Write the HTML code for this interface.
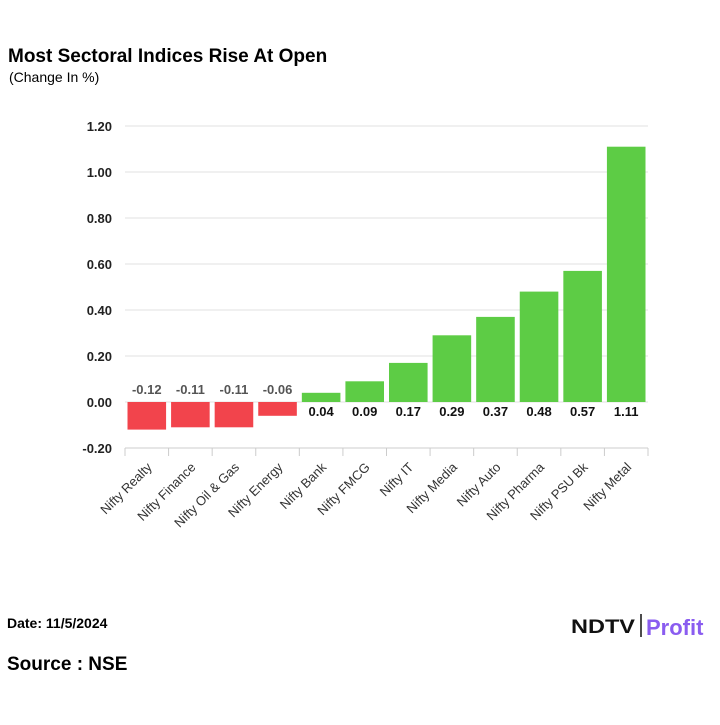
<!DOCTYPE html>
<html><head><meta charset="utf-8"><style>
body{margin:0;background:#fff;width:720px;height:720px;overflow:hidden;font-family:"Liberation Sans",Arial,sans-serif}
</style></head><body>
<svg width="720" height="720">
<text x="8" y="62" font-size="19" font-weight="bold" fill="#000">Most Sectoral Indices Rise At Open</text>
<text x="9" y="82" font-size="14" fill="#000">(Change In %)</text>
<g id="plot"></g>
<text x="7" y="628" font-size="14" font-weight="bold">Date: 11/5/2024</text>
<text x="7" y="670" font-size="19" font-weight="bold">Source : NSE</text>
<g>
<text x="571" y="633" font-size="19" font-weight="900" fill="#111" textLength="64" lengthAdjust="spacingAndGlyphs">NDTV</text>
<line x1="641" y1="614" x2="641" y2="637" stroke="#111" stroke-width="1.5"/>
<text x="646" y="635" font-size="22" font-weight="bold" fill="#8a5cf0">Profit</text>
</g>
</svg>
<script>
const categories=["Nifty Realty","Nifty Finance","Nifty Oil & Gas","Nifty Energy","Nifty Bank","Nifty FMCG","Nifty IT","Nifty Media","Nifty Auto","Nifty Pharma","Nifty PSU Bk","Nifty Metal"];
const values=[-0.12,-0.11,-0.11,-0.06,0.04,0.09,0.17,0.29,0.37,0.48,0.57,1.11];
const ticks=[-0.2,0,0.2,0.4,0.6,0.8,1.0,1.2];
const NS="http://www.w3.org/2000/svg";
const g=document.getElementById('plot');
const x0=125,x1=648,bw=(x1-x0)/categories.length;
const y=v=>402-v*230;
function el(t,a,txt){const e=document.createElementNS(NS,t);for(const k in a)e.setAttribute(k,a[k]);if(txt!=null)e.textContent=txt;g.appendChild(e);return e;}
ticks.forEach(t=>{
 const l=el('line',{x1:x0,x2:x1,y1:y(t),y2:y(t),stroke:t===-0.2?'#ccc':'#e2e2e2','stroke-width':1});
 
 
 const tx=el('text',{x:112,y:y(t)+5,'text-anchor':'end','font-size':13,'font-weight':'bold',fill:'#222'},t.toFixed(2));
 
 
});
for(let i=0;i<=categories.length;i++){
 const l=el('line',{x1:x0+i*bw,x2:x0+i*bw,y1:y(-0.2),y2:y(-0.2)+8,stroke:'#ccc'});
 
 
}
categories.forEach((c,i)=>{
 const v=values[i],cx=x0+(i+0.5)*bw,w=bw-5;
 const top=Math.min(y(v),y(0)),h=Math.abs(y(v)-y(0));
 const r=el('rect',{x:cx-w/2,y:top,width:w,height:h,fill:v<0?'#f2444c':'#5dcc45'});
 
 
 const lt=el('text',{x:cx,y:v<0?y(0)-8:y(0)+14,'text-anchor':'middle','font-size':13,'font-weight':'bold',fill:v<0?'#555':'#111'},v.toFixed(2));
 
 
 const xl=el('text',{x:cx+6,y:y(-0.2)+20,'text-anchor':'end','font-size':13,fill:'#333',transform:`rotate(-45 ${cx+6} ${y(-0.2)+20})`},c);
 
 
});
</script>
</body></html>
